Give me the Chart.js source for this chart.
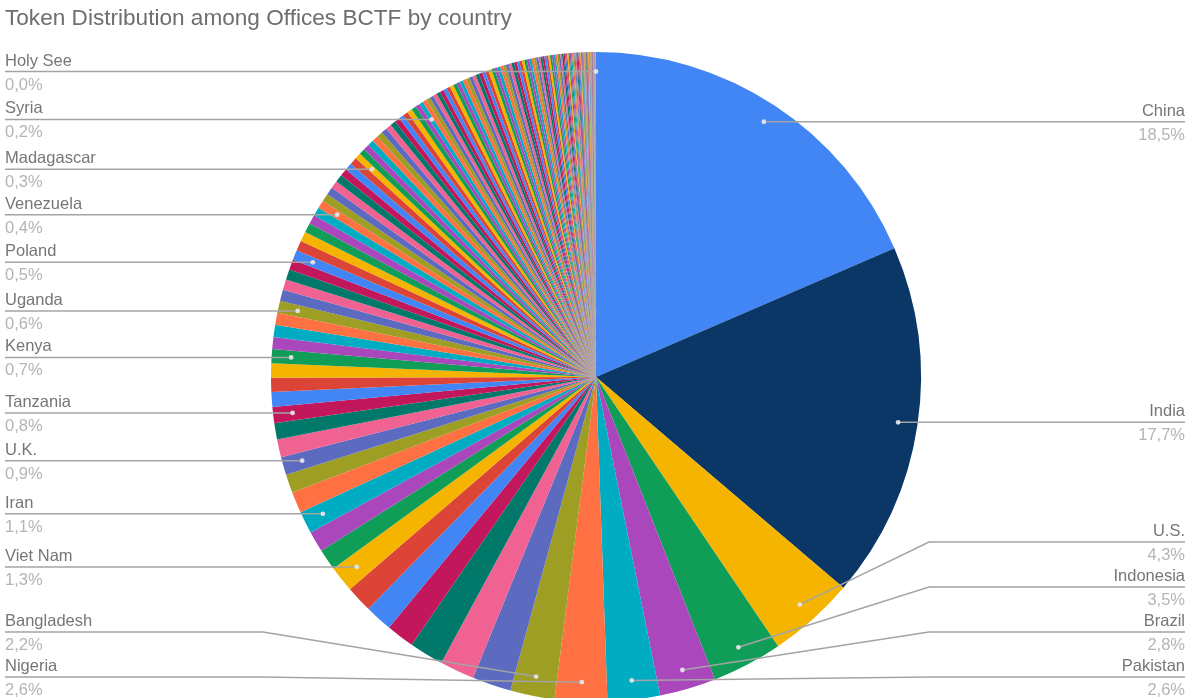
<!DOCTYPE html>
<html>
<head>
<meta charset="utf-8">
<title>Token Distribution among Offices BCTF by country</title>
<script src="https://cdn.jsdelivr.net/npm/chart.js@4.4.1/dist/chart.umd.min.js"></script>
<style>
  html, body { margin: 0; padding: 0; background: #ffffff; overflow: hidden; }
  #wrap { position: relative; width: 1187px; height: 704px; }
</style>
</head>
<body>
<div id="wrap"><canvas id="chart" width="1187" height="704"></canvas></div>
<script>
// Share of tokens per country, in percent, largest first.
const chartTitle = 'Token Distribution among Offices BCTF by country';

const countries = [
  'China', 'India', 'U.S.', 'Indonesia', 'Brazil', 'Pakistan', 'Nigeria', 'Bangladesh', 'Russia', 'Mexico',
  'Japan', 'Philippines', 'Ethiopia', 'Egypt', 'Viet Nam', 'Germany', 'DR Congo', 'Iran', 'Turkey', 'Thailand',
  'U.K.', 'France', 'Italy', 'Tanzania', 'South Africa', 'Myanmar', 'South Korea', 'Kenya', 'Colombia', 'Spain',
  'Argentina', 'Uganda', 'Ukraine', 'Algeria', 'Sudan', 'Iraq', 'Poland', 'Canada', 'Morocco', 'Afghanistan',
  'Saudi Arabia', 'Uzbekistan', 'Venezuela', 'Malaysia', 'Peru', 'Nepal', 'Angola', 'Mozambique', 'Ghana', 'Yemen',
  'Madagascar', 'North Korea', 'Australia', "Côte d'Ivoire", 'Cameroon', 'Niger', 'Sri Lanka', 'Romania', 'Burkina Faso', 'Malawi',
  'Mali', 'Kazakhstan', 'Chile', 'Netherlands', 'Guatemala', 'Syria',
  'Ecuador', 'Zambia', 'Zimbabwe', 'Cambodia', 'Senegal', 'Chad', 'Somalia', 'Guinea', 'South Sudan', 'Rwanda',
  'Cuba', 'Tunisia', 'Belgium', 'Benin', 'Bolivia', 'Haiti',
  'Burundi', 'Greece', 'Dominican Republic', 'Czech Republic', 'Portugal',
  'Sweden', 'Jordan', 'Azerbaijan', 'Hungary', 'Belarus',
  'United Arab Emirates', 'Honduras', 'Tajikistan', 'Austria',
  'Israel', 'Switzerland', 'Papua New Guinea',
  'Togo', 'Sierra Leone', 'Bulgaria', 'Serbia',
  'Laos', 'Paraguay',
  'Libya', 'El Salvador', 'Nicaragua', 'Kyrgyzstan', 'Lebanon', 'Turkmenistan', 'Singapore', 'Denmark',
  'Finland', 'Slovakia', 'Norway', 'Congo', 'Costa Rica', 'Eritrea',
  'Ireland', 'New Zealand', 'Liberia', 'Central African Republic', 'State of Palestine', 'Oman', 'Mauritania', 'Croatia',
  'Kuwait', 'Panama', 'Georgia', 'Moldova', 'Bosnia and Herzegovina', 'Uruguay',
  'Mongolia', 'Armenia', 'Jamaica', 'Albania', 'Lithuania',
  'Qatar', 'Namibia', 'Botswana', 'Lesotho', 'Gambia', 'North Macedonia', 'Slovenia', 'Gabon', 'Latvia',
  'Guinea-Bissau', 'Bahrain', 'Trinidad and Tobago', 'Estonia', 'Timor-Leste', 'Mauritius', 'Eswatini', 'Equatorial Guinea', 'Cyprus',
  'Djibouti', 'Fiji', 'Comoros', 'Bhutan', 'Guyana', 'Montenegro', 'Solomon Islands', 'Luxembourg', 'Suriname', 'Cabo Verde',
  'Malta', 'Maldives', 'Brunei', 'Bahamas', 'Belize', 'Iceland', 'Barbados', 'Vanuatu', 'Sao Tome and Principe', 'Samoa',
  'Saint Lucia', 'Kiribati', 'Saint Vincent and the Grenadines', 'Grenada', 'Tonga', 'Micronesia', 'Antigua and Barbuda', 'Seychelles', 'Andorra', 'Dominica',
  'Saint Kitts and Nevis', 'Marshall Islands', 'Liechtenstein', 'Monaco', 'San Marino', 'Palau', 'Nauru', 'Tuvalu', 'Holy See'
];

const shares = [
  18.5, 17.7, 4.3, 3.5, 2.8, 2.6, 2.6, 2.2, 1.93, 1.72,
  1.70, 1.39, 1.37, 1.31, 1.3, 1.05, 1.04, 1.1, 1.05, 0.92,
  0.9, 0.88, 0.81, 0.8, 0.74, 0.70, 0.70, 0.7, 0.60, 0.60,
  0.60, 0.6, 0.55, 0.53, 0.52, 0.50, 0.5, 0.50, 0.49, 0.47,
  0.45, 0.43, 0.4, 0.39, 0.39, 0.38, 0.38, 0.37, 0.37, 0.36,
  0.3, 0.30, 0.30, 0.30, 0.30, 0.29, 0.29, 0.28, 0.27, 0.26,
  0.25, 0.25, 0.25, 0.24, 0.22, 0.2,
  0.20, 0.20, 0.19, 0.19, 0.19, 0.19, 0.18, 0.18, 0.18, 0.18,
  0.17, 0.17, 0.17, 0.17, 0.17, 0.17,
  0.17, 0.17, 0.16, 0.16, 0.16,
  0.15, 0.15, 0.15, 0.15, 0.14,
  0.14, 0.14, 0.14, 0.13,
  0.13, 0.13, 0.12,
  0.12, 0.12, 0.12, 0.12,
  0.11, 0.11,
  0.10, 0.10, 0.10, 0.10, 0.09, 0.09, 0.09, 0.09,
  0.09, 0.08, 0.08, 0.08, 0.08, 0.08,
  0.06, 0.06, 0.06, 0.06, 0.06, 0.06, 0.06, 0.06,
  0.05, 0.05, 0.05, 0.05, 0.05, 0.05,
  0.04, 0.04, 0.04, 0.04, 0.04,
  0.03, 0.03, 0.03, 0.03, 0.03, 0.03, 0.03, 0.03, 0.03,
  0.02, 0.02, 0.02, 0.02, 0.02, 0.02, 0.02, 0.02, 0.02,
  0.01, 0.01, 0.01, 0.01, 0.01, 0.01, 0.01, 0.01, 0.01, 0.01,
  0.006, 0.006, 0.006, 0.005, 0.005, 0.004, 0.004, 0.004, 0.003, 0.003,
  0.002, 0.0015, 0.0015, 0.0014, 0.0014, 0.0014, 0.0013, 0.0013, 0.001, 0.001,
  0.0007, 0.0007, 0.0005, 0.0005, 0.0004, 0.0003, 0.0002, 0.00015, 0.00001
];

// Countries that get a called-out label with a leader line.
const labelledCountries = [
  'China', 'India', 'U.S.', 'Indonesia', 'Brazil', 'Pakistan', 'Nigeria', 'Bangladesh',
  'Viet Nam', 'Iran', 'U.K.', 'Tanzania', 'Kenya', 'Uganda', 'Poland', 'Venezuela',
  'Madagascar', 'Syria', 'Holy See'
];

// Slice colours cycle through this list; India has its own colour.
const palette = ['#4285F4', '#DB4437', '#F4B400', '#0F9D58', '#AB47BC', '#00ACC1',
                 '#FF7043', '#9E9D24', '#5C6BC0', '#F06292', '#00796B', '#C2185B'];
const specialColors = { 'India': '#0B3766' };

const sliceColors = countries.map((c, i) => specialColors[c] || palette[i % palette.length]);

const FONT = '"Liberation Sans", "Helvetica Neue", Arial, sans-serif';

function formatPct(v) {
  return v.toFixed(1).replace('.', ',') + '%';
}

// Title drawn at the top-left of the canvas.
const titlePlugin = {
  id: 'titleText',
  afterDraw(chart) {
    const ctx = chart.ctx;
    ctx.save();
    ctx.font = '22.6px ' + FONT;
    ctx.fillStyle = '#6e6e6e';
    ctx.textAlign = 'left';
    ctx.textBaseline = 'alphabetic';
    ctx.fillText(chartTitle, 5, 25);
    ctx.restore();
  }
};

// Callout labels: a dot inside the slice, a leader line to the page edge,
// the country name above the line and its share below it.
const calloutPlugin = {
  id: 'callouts',
  afterDatasetsDraw(chart) {
    const ctx = chart.ctx;
    const meta = chart.getDatasetMeta(0);
    const data = chart.data.datasets[0].data;
    const total = data.reduce((a, b) => a + b, 0);
    const edgeLeft = 5, edgeRight = chart.width - 2;
    const bottomLine = 677, gap = 45;

    const items = labelledCountries.map(name => {
      const i = countries.indexOf(name);
      const p = meta.data[i].getProps(['x', 'y', 'startAngle', 'endAngle', 'outerRadius'], true);
      const mid = (p.startAngle + p.endAngle) / 2;
      const r = p.outerRadius * 0.94;
      return {
        name,
        pct: formatPct(data[i] / total * 100),
        dotX: p.x + Math.cos(mid) * r,
        dotY: p.y + Math.sin(mid) * r,
        cx: p.x,
        R: p.outerRadius,
        side: Math.cos(mid) >= 0 ? 'right' : 'left'
      };
    });

    ['left', 'right'].forEach(side => {
      const list = items.filter(it => it.side === side).sort((a, b) => a.dotY - b.dotY);
      for (let k = list.length - 1; k >= 0; k--) {
        const limit = k === list.length - 1 ? bottomLine : list[k + 1].lineY - gap;
        list[k].lineY = Math.min(list[k].dotY, limit);
      }
    });

    ctx.save();
    items.forEach(it => {
      const right = it.side === 'right';
      const edgeX = right ? edgeRight : edgeLeft;
      const elbowX = it.cx + (right ? 1 : -1) * (it.R + 8);

      ctx.beginPath();
      ctx.moveTo(it.dotX, it.dotY);
      if (Math.abs(it.lineY - it.dotY) > 1) ctx.lineTo(elbowX, it.lineY);
      ctx.lineTo(edgeX, it.lineY);
      ctx.strokeStyle = '#a4a4a4';
      ctx.lineWidth = 1.5;
      ctx.stroke();

      ctx.beginPath();
      ctx.arc(it.dotX, it.dotY, 2.4, 0, Math.PI * 2);
      ctx.fillStyle = 'rgba(228,228,232,0.95)';
      ctx.fill();

      ctx.font = '16.5px ' + FONT;
      ctx.textAlign = right ? 'right' : 'left';
      ctx.textBaseline = 'alphabetic';
      ctx.fillStyle = '#767676';
      ctx.fillText(it.name, edgeX, it.lineY - 6);
      ctx.fillStyle = '#b4b4b4';
      ctx.fillText(it.pct, edgeX, it.lineY + 18);
    });
    ctx.restore();
  }
};

new Chart(document.getElementById('chart'), {
  type: 'pie',
  data: {
    labels: countries,
    datasets: [{
      data: shares,
      backgroundColor: sliceColors,
      borderWidth: 0,
      hoverOffset: 0
    }]
  },
  options: {
    responsive: false,
    animation: false,
    layout: { padding: { top: 52, bottom: 2, left: 5, right: 0 } },
    plugins: {
      legend: { display: false },
      title: { display: false },
      tooltip: { enabled: false }
    }
  },
  plugins: [calloutPlugin, titlePlugin]
});
</script>
</body>
</html>
